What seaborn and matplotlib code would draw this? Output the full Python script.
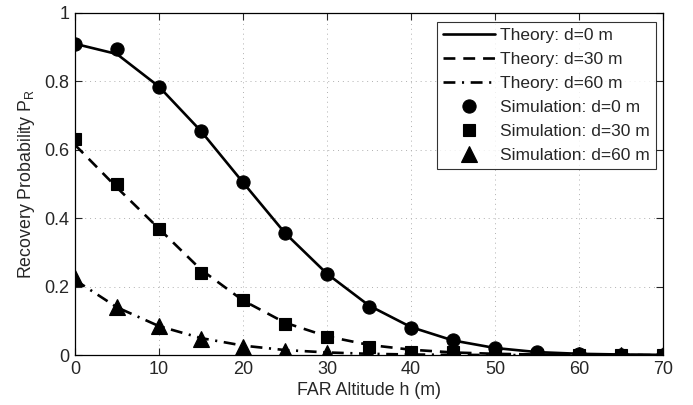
import matplotlib
matplotlib.use("Agg")
import matplotlib.pyplot as plt
import seaborn as sns
import pandas as pd

h = [0, 5, 10, 15, 20, 25, 30, 35, 40, 45, 50, 55, 60, 65, 70]
theory_d0 = [0.91, 0.88, 0.785, 0.655, 0.505, 0.357, 0.238, 0.145, 0.082, 0.043, 0.021, 0.009, 0.004, 0.002, 0.001]
theory_d30 = [0.615, 0.49, 0.37, 0.25, 0.16, 0.095, 0.055, 0.03, 0.016, 0.008, 0.004, 0.002, 0.001, 0.0005, 0.0002]
theory_d60 = [0.22, 0.14, 0.085, 0.05, 0.028, 0.015, 0.008, 0.004, 0.002, 0.001, 0.0005, 0.0002, 0.0001, 0.0, 0.0]
sim_d0 = [0.91, 0.895, 0.785, 0.655, 0.505, 0.357, 0.238, 0.14, 0.078, 0.043, 0.022, 0.01, 0.003, 0.002, 0.001]
sim_d30 = [0.632, 0.50, 0.37, 0.24, 0.16, 0.09, 0.053, 0.025, 0.01, 0.008, 0.004, 0.002, 0.001, 0.001, 0.001]
sim_d60 = [0.225, 0.14, 0.085, 0.047, 0.025, 0.012, 0.005, 0.002, 0.002, 0.001, 0.001, 0.001, 0.001, 0.001, 0.001]

sns.set_style("ticks")
plt.rcParams['font.family'] = ['Liberation Sans', 'DejaVu Sans']
plt.rcParams['mathtext.fontset'] = 'custom'
plt.rcParams['mathtext.rm'] = 'Liberation Sans'

fig = plt.figure(figsize=(6.93, 4.05), dpi=100)
ax = fig.add_axes([0.108, 0.123, 0.849, 0.845])

df = pd.DataFrame({"h": h, "t0": theory_d0, "t30": theory_d30, "t60": theory_d60,
                   "s0": sim_d0, "s30": sim_d30, "s60": sim_d60})

lw = 1.9
sns.lineplot(data=df, x="h", y="t0", ax=ax, color="black", lw=lw, linestyle="-", label="Theory: d=0 m")
sns.lineplot(data=df, x="h", y="t30", ax=ax, color="black", lw=lw, linestyle=(0, (4.5, 3)), label="Theory: d=30 m")
sns.lineplot(data=df, x="h", y="t60", ax=ax, color="black", lw=lw, linestyle=(0, (4.5, 2.5, 0.8, 2.5)), label="Theory: d=60 m")
mk = dict(color="black", linestyle="none", markeredgecolor="black", markeredgewidth=0.8)
sns.lineplot(data=df, x="h", y="s0", ax=ax, marker="o", markersize=9.5, label="Simulation: d=0 m", **mk)
sns.lineplot(data=df, x="h", y="s30", ax=ax, marker="s", markersize=9, label="Simulation: d=30 m", **mk)
sns.lineplot(data=df, x="h", y="s60", ax=ax, marker="^", markersize=11, label="Simulation: d=60 m", **mk)

ax.set_xlim(0, 70)
ax.set_ylim(0, 1)
ax.set_xticks(range(0, 71, 10))
ax.set_yticks([0, 0.2, 0.4, 0.6, 0.8, 1.0])
ax.set_yticklabels(["0", "0.2", "0.4", "0.6", "0.8", "1"])
ax.grid(True, linestyle=(0, (1, 4)), color="#b0b0b0", lw=0.7)
ax.tick_params(direction="in", top=True, right=True, labelsize=13, length=5, width=0.8, pad=4)
for s in ax.spines.values():
    s.set_linewidth(0.9)
    s.set_color("black")
ax.set_xlabel("FAR Altitude h (m)", fontsize=12.8, labelpad=3)
ax.set_ylabel("Recovery Probability P$_\\mathregular{R}$", fontsize=12.8, labelpad=5)

leg = ax.legend(loc="upper right", bbox_to_anchor=(0.988, 0.973), fontsize=12.5, frameon=True,
                fancybox=False, edgecolor="black", handlelength=3.0, labelspacing=0.5,
                borderpad=0.35, handletextpad=0.3, borderaxespad=0)
leg.get_frame().set_linewidth(0.8)

fig.savefig("out.png", dpi=100)
